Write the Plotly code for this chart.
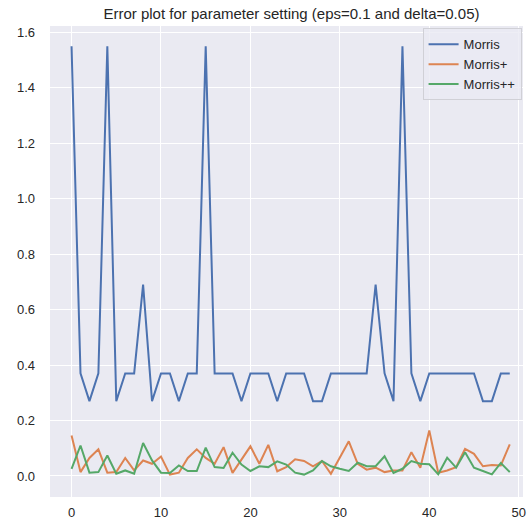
import plotly.graph_objects as go

x = list(range(50))

morris = [1.55, 0.37, 0.27, 0.37, 1.55, 0.27, 0.37, 0.37, 0.69, 0.27,
          0.37, 0.37, 0.27, 0.37, 0.37, 1.55, 0.37, 0.37, 0.37, 0.27,
          0.37, 0.37, 0.37, 0.27, 0.37, 0.37, 0.37, 0.27, 0.27, 0.37,
          0.37, 0.37, 0.37, 0.37, 0.69, 0.37, 0.27, 1.55, 0.37, 0.27,
          0.37, 0.37, 0.37, 0.37, 0.37, 0.37, 0.27, 0.27, 0.37, 0.37]

morris_plus = [0.146, 0.014, 0.065, 0.096, 0.012, 0.014, 0.065, 0.020, 0.056, 0.044,
               0.070, 0.005, 0.012, 0.065, 0.096, 0.065, 0.044, 0.104, 0.011, 0.059,
               0.107, 0.044, 0.112, 0.017, 0.032, 0.060, 0.054, 0.035, 0.054, 0.008,
               0.068, 0.125, 0.044, 0.023, 0.030, 0.014, 0.020, 0.020, 0.086, 0.030,
               0.164, 0.012, 0.020, 0.032, 0.098, 0.080, 0.035, 0.040, 0.038, 0.114]

morris_pp = [0.026, 0.110, 0.012, 0.014, 0.074, 0.008, 0.020, 0.008, 0.119, 0.056,
             0.012, 0.011, 0.038, 0.018, 0.018, 0.102, 0.032, 0.029, 0.084, 0.041,
             0.018, 0.035, 0.032, 0.053, 0.041, 0.012, 0.005, 0.020, 0.054, 0.035,
             0.026, 0.018, 0.048, 0.035, 0.035, 0.071, 0.011, 0.026, 0.054, 0.044,
             0.042, 0.006, 0.066, 0.030, 0.086, 0.030, 0.018, 0.006, 0.047, 0.014]

x_ticks = [0, 10, 20, 30, 40, 50]
y_ticks = [0.0, 0.2, 0.4, 0.6, 0.8, 1.0, 1.2, 1.4, 1.6]
y_tick_labels = ["0.0", "0.2", "0.4", "0.6", "0.8", "1.0", "1.2", "1.4", "1.6"]

series = [("Morris", morris, "#4C72B0"),
          ("Morris+", morris_plus, "#DD8452"),
          ("Morris++", morris_pp, "#55A868")]

fig = go.Figure()
for name, vals, col in series:
    fig.add_trace(go.Scatter(x=x, y=vals, mode="lines", name=name,
                             line=dict(color=col, width=2)))

font = "Liberation Sans, Arial, sans-serif"
fig.update_layout(
    width=531, height=525,
    margin=dict(l=50, r=5, t=26, b=28),
    paper_bgcolor="white",
    plot_bgcolor="#EAEAF2",
    font=dict(family=font, size=13, color="#262626"),
    title=dict(text="Error plot for parameter setting (eps=0.1 and delta=0.05)",
               x=0.5105, xref="paper", xanchor="center",
               y=1 - 13.5 / 525, yref="container", yanchor="middle",
               font=dict(family=font, size=15, color="#262626")),
    showlegend=True,
    legend=dict(x=0.997, y=0.995, xanchor="right", yanchor="top",
                bgcolor="rgba(234,234,242,0.8)", bordercolor="#D0D0D6",
                borderwidth=1, font=dict(family=font, size=13, color="#262626"),
                tracegroupgap=0),
)
fig.update_xaxes(range=[-2.41, 50.48], tickmode="array", tickvals=x_ticks,
                 showgrid=True, gridcolor="white", gridwidth=1.3,
                 zeroline=False, showline=False, ticks="", ticklabelstandoff=6,
                 tickfont=dict(family=font, size=13, color="#262626"))
fig.update_yaxes(range=[-0.0758, 1.623], tickmode="array", tickvals=y_ticks,
                 ticktext=y_tick_labels,
                 showgrid=True, gridcolor="white", gridwidth=1.3,
                 zeroline=False, showline=False, ticks="", ticklabelstandoff=14,
                 tickfont=dict(family=font, size=13, color="#262626"))

fig.write_html("out.html", config={"displayModeBar": False},
               post_script="document.body.style.margin='0';")
